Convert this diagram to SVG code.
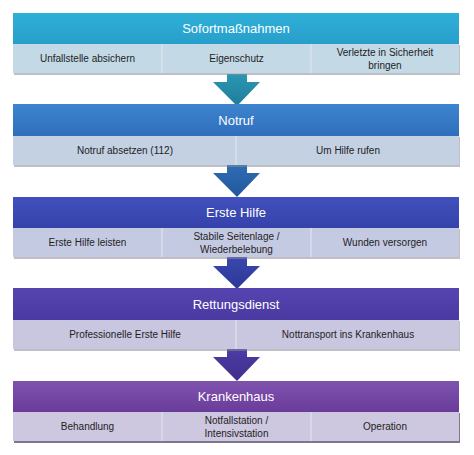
<svg xmlns="http://www.w3.org/2000/svg" width="474" height="455" viewBox="0 0 474 455">
<defs>
<style>
.h{font-family:"Liberation Sans",Arial,sans-serif;font-size:13px;fill:#ffffff;text-anchor:middle}
.t{font-family:"Liberation Sans",Arial,sans-serif;font-size:10px;fill:#1e1e1e;text-anchor:middle}
.div{stroke:#e4e8f0;stroke-width:1}
.sh{fill:#8a8a96;opacity:0.55}
</style>
<linearGradient id="g1" x1="0" y1="0" x2="0" y2="1"><stop offset="0" stop-color="#2eb0d8"/><stop offset="1" stop-color="#289ecb"/></linearGradient>
<linearGradient id="g2" x1="0" y1="0" x2="0" y2="1"><stop offset="0" stop-color="#3d84ce"/><stop offset="1" stop-color="#2f6fbd"/></linearGradient>
<linearGradient id="g3" x1="0" y1="0" x2="0" y2="1"><stop offset="0" stop-color="#4150bd"/><stop offset="1" stop-color="#3542aa"/></linearGradient>
<linearGradient id="g4" x1="0" y1="0" x2="0" y2="1"><stop offset="0" stop-color="#5645b0"/><stop offset="1" stop-color="#4b39a2"/></linearGradient>
<linearGradient id="g5" x1="0" y1="0" x2="0" y2="1"><stop offset="0" stop-color="#7e53ae"/><stop offset="1" stop-color="#6a3c9a"/></linearGradient>
<linearGradient id="a1" x1="0" y1="0" x2="0" y2="1"><stop offset="0" stop-color="#2a98b4"/><stop offset="1" stop-color="#1f7c99"/></linearGradient>
<linearGradient id="a2" x1="0" y1="0" x2="0" y2="1"><stop offset="0" stop-color="#2f6cb4"/><stop offset="1" stop-color="#22579c"/></linearGradient>
<linearGradient id="a3" x1="0" y1="0" x2="0" y2="1"><stop offset="0" stop-color="#3a48ae"/><stop offset="1" stop-color="#2d3896"/></linearGradient>
<linearGradient id="a4" x1="0" y1="0" x2="0" y2="1"><stop offset="0" stop-color="#4d3ca4"/><stop offset="1" stop-color="#3e2f8c"/></linearGradient>
</defs>
<rect width="474" height="455" fill="#ffffff"/>

<g id="connectors">
<path d="M227,74 H247 V82 H260 L237,106 L213,82 H227 Z" fill="url(#a1)"/>
<path d="M227,165 H247 V173 H260 L237,197 L213,173 H227 Z" fill="url(#a2)"/>
<path d="M227,257 H247 V266 H260 L237,289 L213,266 H227 Z" fill="url(#a3)"/>
<path d="M227,349 H247 V357 H260 L237,381 L213,357 H227 Z" fill="url(#a4)"/>
</g>

<g id="node-sofortmassnahmen">
<rect class="sh" x="14" y="45" width="446" height="30"/>
<rect x="13" y="13" width="446" height="31" fill="url(#g1)"/>
<rect x="13" y="44" width="446" height="29" fill="#c3d9e5"/>
<line class="div" x1="162" y1="44" x2="162" y2="73"/>
<line class="div" x1="311" y1="44" x2="311" y2="73"/>
<text class="h" x="236" y="33">Sofortmaßnahmen</text>
<text class="t" x="87.5" y="62">Unfallstelle absichern</text>
<text class="t" x="236.5" y="62">Eigenschutz</text>
<text class="t" x="385" y="56">Verletzte in Sicherheit</text>
<text class="t" x="385" y="69">bringen</text>
</g>

<g id="node-notruf">
<rect class="sh" x="14" y="137" width="446" height="30"/>
<rect x="13" y="104" width="446" height="32" fill="url(#g2)"/>
<rect x="13" y="136" width="446" height="29" fill="#c3d1e3"/>
<line class="div" x1="236" y1="136" x2="236" y2="165"/>
<text class="h" x="236" y="125">Notruf</text>
<text class="t" x="125" y="154">Notruf absetzen (112)</text>
<text class="t" x="348" y="154">Um Hilfe rufen</text>
</g>

<g id="node-erste-hilfe">
<rect class="sh" x="14" y="229" width="446" height="30"/>
<rect x="13" y="197" width="446" height="31" fill="url(#g3)"/>
<rect x="13" y="228" width="446" height="29" fill="#c5cae3"/>
<line class="div" x1="162" y1="228" x2="162" y2="257"/>
<line class="div" x1="311" y1="228" x2="311" y2="257"/>
<text class="h" x="236" y="217">Erste Hilfe</text>
<text class="t" x="87.5" y="246">Erste Hilfe leisten</text>
<text class="t" x="236.5" y="240">Stabile Seitenlage /</text>
<text class="t" x="236.5" y="253">Wiederbelebung</text>
<text class="t" x="385" y="246">Wunden versorgen</text>
</g>

<g id="node-rettungsdienst">
<rect class="sh" x="14" y="321" width="446" height="30"/>
<rect x="13" y="288" width="446" height="32" fill="url(#g4)"/>
<rect x="13" y="320" width="446" height="29" fill="#c9c6e0"/>
<line class="div" x1="236" y1="320" x2="236" y2="349"/>
<text class="h" x="236" y="309">Rettungsdienst</text>
<text class="t" x="125" y="338">Professionelle Erste Hilfe</text>
<text class="t" x="348" y="338">Nottransport ins Krankenhaus</text>
</g>

<g id="node-krankenhaus">
<rect x="14" y="413" width="446" height="30" fill="#4a3a5e" opacity="0.7"/>
<rect x="13" y="381" width="446" height="31" fill="url(#g5)"/>
<rect x="13" y="412" width="446" height="29" fill="#cdc7df"/>
<line class="div" x1="162" y1="412" x2="162" y2="441"/>
<line class="div" x1="311" y1="412" x2="311" y2="441"/>
<text class="h" x="236" y="401">Krankenhaus</text>
<text class="t" x="87.5" y="430">Behandlung</text>
<text class="t" x="236.5" y="424">Notfallstation /</text>
<text class="t" x="236.5" y="437">Intensivstation</text>
<text class="t" x="385" y="430">Operation</text>
</g>
</svg>
